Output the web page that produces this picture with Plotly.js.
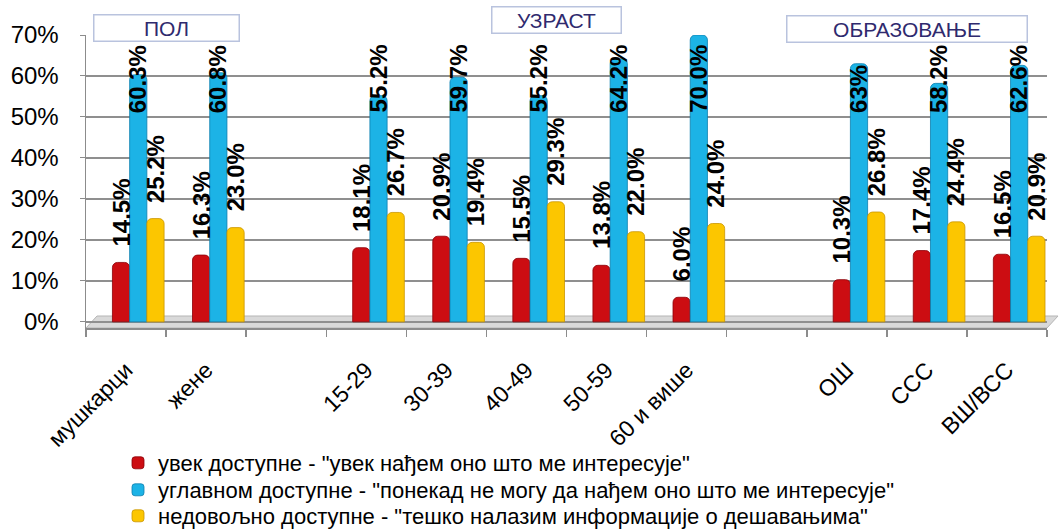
<!DOCTYPE html>
<html><head><meta charset="utf-8">
<script src="https://cdn.plot.ly/plotly-3.0.1.min.js"></script>
<style>html,body{margin:0;padding:0;background:#fff}#chart{width:1062px;height:531px}</style>
</head><body><div id="chart"></div>
<script>
const categories = ['мушкарци','жене',' ','15-29','30-39','40-49','50-59','60 и више','  ','ОШ','ССС','ВШ/ВСС'];
const seriesNames = [
  'увек доступне - "увек нађем оно што ме интересује"',
  'углавном доступне - "понекад не могу да нађем оно што ме интересује"',
  'недовољно доступне - "тешко налазим информације о дешавањима"'
];
const alwaysValues = [14.5, 16.3, null, 18.1, 20.9, 15.5, 13.8, 6.0, null, 10.3, 17.4, 16.5];
const mostlyValues = [60.3, 60.8, null, 55.2, 59.7, 55.2, 64.2, 70.0, null, 63, 58.2, 62.6];
const poorlyValues = [25.2, 23.0, null, 26.7, 19.4, 29.3, 22.0, 24.0, null, 26.8, 24.4, 20.9];
const alwaysLabels = ['14.5%','16.3%','','18.1%','20.9%','15.5%','13.8%','6.0%','','10.3%','17.4%','16.5%'];
const mostlyLabels = ['60.3%','60.8%','','55.2%','59.7%','55.2%','64.2%','70.0%','','63%','58.2%','62.6%'];
const poorlyLabels = ['25.2%','23.0%','','26.7%','19.4%','29.3%','22.0%','24.0%','','26.8%','24.4%','20.9%'];
const yTickVals = [0, 10, 20, 30, 40, 50, 60, 70];
const yTickText = ['0%','10%','20%','30%','40%','50%','60%','70%'];
const groupNames = ['ПОЛ', 'УЗРАСТ', 'ОБРАЗОВАЊЕ'];

// layout geometry (pixels)
const L = 86, R = 1047, T = 35, B = 328;
const Y0 = -1.5, Y1 = 70;
const px2x = p => (p - L) / (R - L);
const px2y = p => (B - p) / (B - T);
const val2paper = v => (v - Y0) / (Y1 - Y0);

const colors = ['#cc0d12', '#1cb3e6', '#fcc600'];
const edge = ['#8a0008', '#0d7fae', '#c99500'];
const barW = 0.215;
const offsets = [-0.17, 0.045, 0.26];
const valueSets = [alwaysValues, mostlyValues, poorlyValues];
const labelSets = [alwaysLabels, mostlyLabels, poorlyLabels];
const legendIds = ['legend', 'legend2', 'legend3'];

const traces = valueSets.map((vals, i) => ({
  type: 'bar',
  name: seriesNames[i],
  legend: legendIds[i],
  x: categories,
  y: vals,
  width: barW,
  offset: offsets[i],
  marker: {color: colors[i], line: {color: edge[i], width: 0.8}, cornerradius: 5},
  hoverinfo: 'skip'
}));

const annotations = [];
const boxes = [
  {cx: 166, cy: 28, w: 148},
  {cx: 556, cy: 20, w: 132},
  {cx: 907, cy: 29, w: 243}
];
groupNames.forEach((g, k) => {
  annotations.push({
    xref: 'paper', yref: 'paper', x: px2x(boxes[k].cx), y: px2y(boxes[k].cy),
    xanchor: 'center', yanchor: 'middle', text: g, showarrow: false,
    width: boxes[k].w - 4, height: 25, bgcolor: '#ffffff',
    bordercolor: '#b9c3de', borderwidth: 1.5, borderpad: 0,
    font: {family: 'Liberation Sans, Arial, sans-serif', size: 21, color: '#2f2a6e'}
  });
});
valueSets.forEach((vals, i) => {
  vals.forEach((v, j) => {
    if (v === null) return;
    const yPos = i === 1 ? Math.min(v + 3.4, 50.5) : v + 3.4;
    annotations.push({
      x: j + offsets[i] + barW / 2, y: val2paper(yPos), xref: 'x', yref: 'paper',
      text: labelSets[i][j], textangle: -90, showarrow: false,
      xanchor: 'center', yanchor: 'bottom',
      font: {family: 'Liberation Sans, Arial, sans-serif', size: 24, color: '#000', weight: 'bold'}
    });
  });
});

const floorPath = 'M ' + px2x(86) + ' ' + px2y(328) + ' L ' + px2x(1047) + ' ' + px2y(328) +
  ' L ' + px2x(1058) + ' ' + px2y(316) + ' L ' + px2x(97) + ' ' + px2y(316) + ' Z';

const legendFont = {family: 'Liberation Sans Narrow, Arial Narrow, Liberation Sans, Arial, sans-serif', size: 22, color: '#000'};
const legendRows = [463, 490, 516];
function legendAt(py) {
  return {
    x: px2x(118), y: px2y(py), xanchor: 'left', yanchor: 'middle',
    orientation: 'v', bgcolor: 'rgba(0,0,0,0)', itemwidth: 30, font: legendFont
  };
}

const layout = {
  width: 1062, height: 531,
  margin: {l: L, r: 1062 - R, t: T, b: 531 - B, pad: 0, autoexpand: false},
  paper_bgcolor: '#ffffff', plot_bgcolor: '#ffffff',
  font: {family: 'Liberation Sans, Arial, sans-serif', color: '#000'},
  barmode: 'overlay',
  showlegend: true,
  xaxis: {
    type: 'category', categoryorder: 'array', categoryarray: categories,
    range: [-0.5, 11.5], tickson: 'boundaries', ticks: 'outside', ticklen: 7,
    tickcolor: '#8c8c8c', tickwidth: 1.5, showline: true, linecolor: '#8c8c8c', linewidth: 1.5,
    showgrid: false, tickangle: -45, ticklabelstandoff: 18, automargin: false,
    tickfont: {size: 23, color: '#000'}, fixedrange: true
  },
  yaxis: {
    range: [Y0, Y1], tickvals: yTickVals, ticktext: yTickText,
    showgrid: true, gridcolor: '#8f8f8f', gridwidth: 1.5, zeroline: false,
    showline: true, linecolor: '#8c8c8c', linewidth: 1.5, ticks: 'outside', ticklen: 5,
    tickcolor: '#8c8c8c', ticklabelstandoff: 16, automargin: false,
    tickfont: {size: 24, color: '#000'}, fixedrange: true
  },
  shapes: [{
    type: 'path', xref: 'paper', yref: 'paper', path: floorPath,
    fillcolor: '#d9d9d9', line: {color: '#b5b5b5', width: 1}, layer: 'below'
  }],
  annotations: annotations,
  legend: legendAt(legendRows[0]),
  legend2: legendAt(legendRows[1]),
  legend3: legendAt(legendRows[2])
};

Plotly.newPlot('chart', traces, layout, {displayModeBar: false, staticPlot: true});
</script>
</body></html>
